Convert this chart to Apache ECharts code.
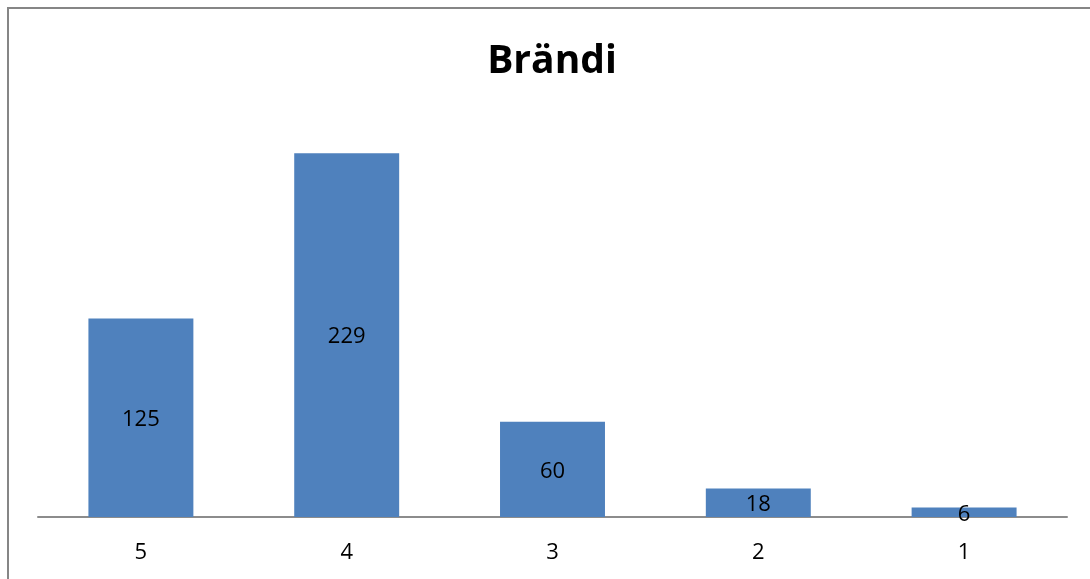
<!DOCTYPE html>
<html>
<head>
<meta charset="utf-8">
<script src="https://cdn.jsdelivr.net/npm/echarts@6/dist/echarts.min.js"></script>
<style>
  html, body { margin: 0; padding: 0; background: #fff; }
  #chart { width: 1090px; height: 579px; }
</style>
</head>
<body>
<div id="chart"></div>
<script>
// Rating categories and response counts
const categories = ['5', '4', '3', '2', '1'];
const counts = [125, 229, 60, 18, 6];
const titleText = 'Brändi';

const chart = echarts.init(document.getElementById('chart'));
chart.setOption({
  animation: false,
  backgroundColor: '#ffffff',
  title: {
    text: titleText,
    left: 547,
    textAlign: 'center',
    top: 37,
    textStyle: { fontFamily: 'Open Sans', fontWeight: 'bold', fontSize: 39, color: '#000' }
  },
  graphic: [{
    type: 'rect',
    shape: { x: 8, y: 8, width: 1200, height: 700 },
    style: { fill: 'none', stroke: '#868686', lineWidth: 2 },
    silent: true
  }],
  grid: { left: 38, right: 23, top: 120, bottom: 62 },
  xAxis: {
    type: 'category',
    data: categories,
    axisLine: { lineStyle: { color: '#8c8c8c', width: 2 } },
    axisTick: { show: false },
    axisLabel: { margin: 25, fontFamily: 'Open Sans', fontSize: 22, color: '#000' }
  },
  yAxis: {
    type: 'value',
    min: 0,
    max: 250,
    show: false,
    splitLine: { show: false }
  },
  series: [{
    type: 'bar',
    data: counts,
    barWidth: '51%',
    itemStyle: { color: '#4f81bd' },
    label: {
      show: true,
      position: 'inside',
      offset: [0, 2],
      fontFamily: 'Open Sans',
      fontSize: 22,
      color: '#000'
    }
  }]
});
</script>
</body>
</html>
